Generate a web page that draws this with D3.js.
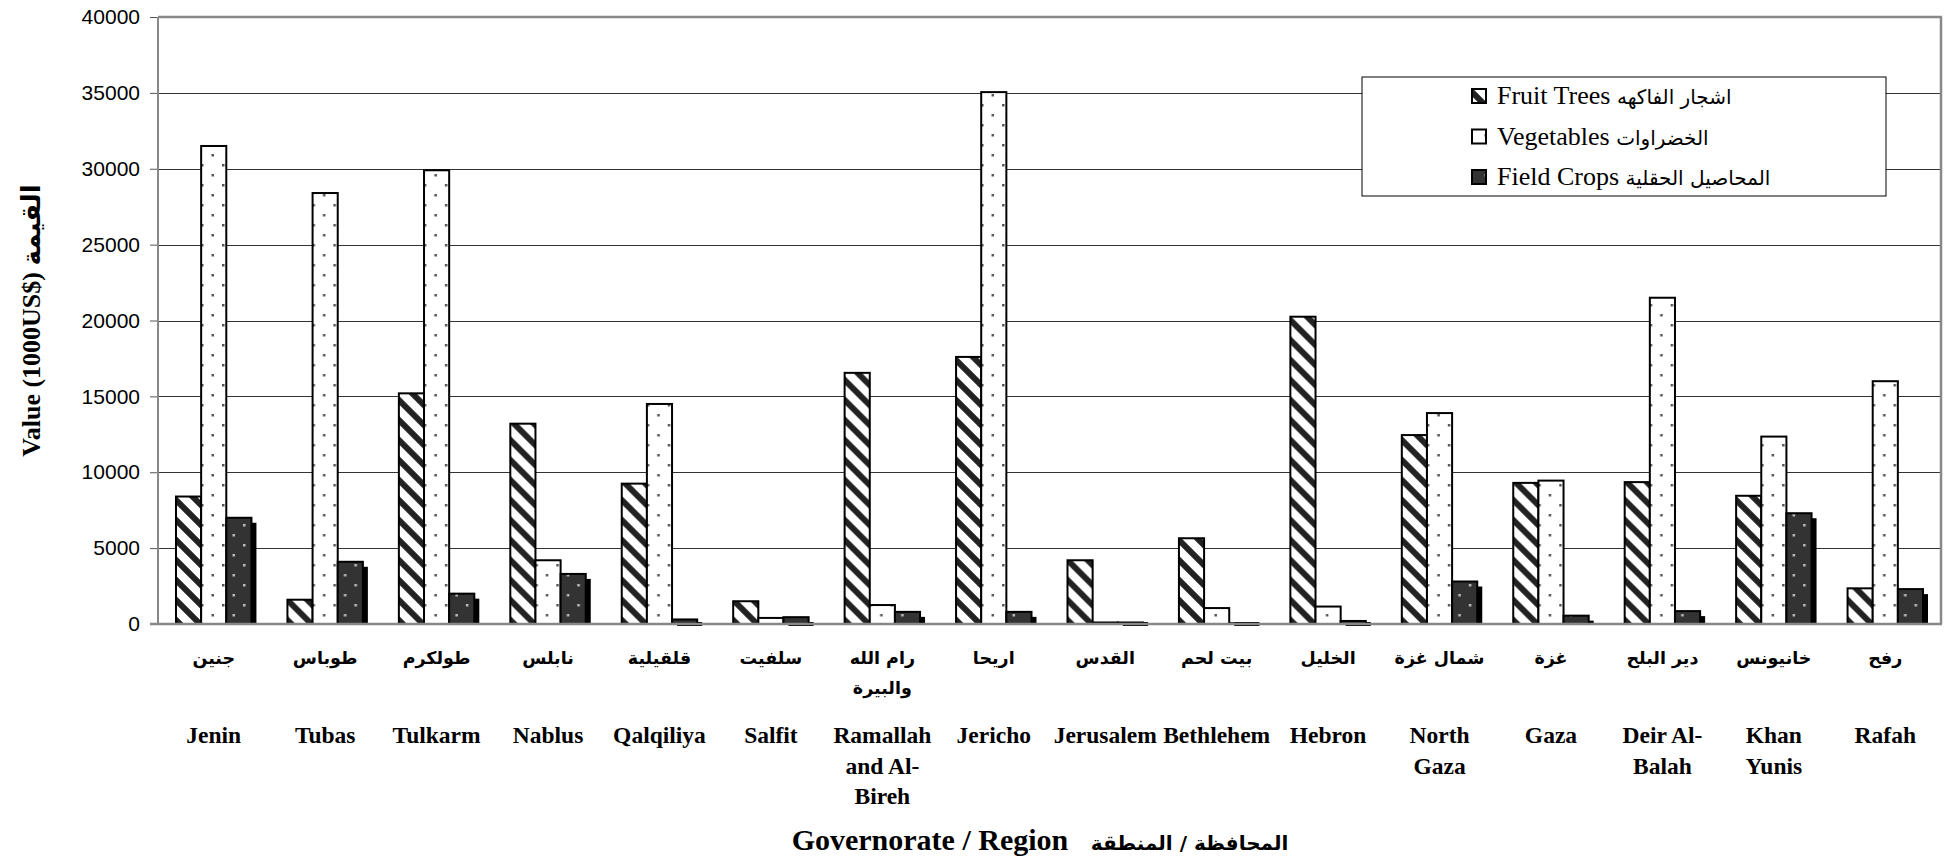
<!DOCTYPE html>
<html><head><meta charset="utf-8">
<script src="https://cdn.jsdelivr.net/npm/d3@7"></script>
<style>body{margin:0;background:#fff}svg{display:block}</style>
</head><body>
<script>
const categoriesEn = [["Jenin"],["Tubas"],["Tulkarm"],["Nablus"],["Qalqiliya"],["Salfit"],["Ramallah","and Al-","Bireh"],["Jericho"],["Jerusalem"],["Bethlehem"],["Hebron"],["North","Gaza"],["Gaza"],["Deir Al-","Balah"],["Khan","Yunis"],["Rafah"]];
const categoriesAr = [["جنين"],["طوباس"],["طولكرم"],["نابلس"],["قلقيلية"],["سلفيت"],["رام الله","والبيرة"],["اريحا"],["القدس"],["بيت لحم"],["الخليل"],["شمال غزة"],["غزة"],["دير البلح"],["خانيونس"],["رفح"]];
const fruitTrees = [8400, 1600, 15200, 13200, 9250, 1500, 16550, 17600, 4200, 5650, 20250, 12450, 9300, 9350, 8450, 2350];
const vegetables = [31500, 28400, 29900, 4200, 14500, 400, 1250, 35050, 100, 1050, 1150, 13900, 9450, 21500, 12350, 16000];
const fieldCrops = [7000, 4100, 2000, 3300, 300, 450, 800, 800, 100, 50, 200, 2800, 550, 850, 7300, 2300];
const seriesEn = ["Fruit Trees", "Vegetables", "Field Crops"];
const seriesAr = ["اشجار الفاكهه", "الخضراوات", "المحاصيل الحقلية"];
const yTicks = [0, 5000, 10000, 15000, 20000, 25000, 30000, 35000, 40000];

const W = 1948, H = 861;
const L = 158, R = 1941, T = 17, B = 624;
const svg = d3.select("body").append("svg").attr("width", W).attr("height", H);
const defs = svg.append("defs");

// patterns
const pf = defs.append("pattern").attr("id","pFruit").attr("patternUnits","userSpaceOnUse").attr("width",20).attr("height",20);
pf.append("rect").attr("width",20).attr("height",20).attr("fill","#fff");
pf.append("path").attr("d","M-5,-5L25,25M-5,15L5,25M15,-5L25,5").attr("stroke","#222").attr("stroke-width",6);
const pv = defs.append("pattern").attr("id","pVeg").attr("patternUnits","userSpaceOnUse").attr("width",21).attr("height",20);
pv.append("rect").attr("width",21).attr("height",20).attr("fill","#fff");
pv.append("rect").attr("x",4).attr("y",4).attr("width",2.5).attr("height",2.5).attr("fill","#555");
pv.append("rect").attr("x",14.5).attr("y",14).attr("width",2.5).attr("height",2.5).attr("fill","#555");
const pc = defs.append("pattern").attr("id","pField").attr("patternUnits","userSpaceOnUse").attr("width",21).attr("height",20);
pc.append("rect").attr("width",21).attr("height",20).attr("fill","#333");
pc.append("rect").attr("x",4).attr("y",4).attr("width",2.5).attr("height",2.5).attr("fill","#bbb");
pc.append("rect").attr("x",14.5).attr("y",14).attr("width",2.5).attr("height",2.5).attr("fill","#bbb");
const fills = ["url(#pFruit)","url(#pVeg)","url(#pField)"];

const idx = d3.range(categoriesEn.length);
const x0 = d3.scaleBand().domain(idx).range([L, R]).paddingInner(0.323).paddingOuter(0.1615);
const x1 = d3.scaleBand().domain([0,1,2]).range([0, x0.bandwidth()]);
const y = d3.scaleLinear().domain([0, 40000]).range([B, T]);

// gridlines
svg.append("g").selectAll("line").data(yTicks.filter(t => t > 0 && t < 40000)).join("line")
  .attr("x1", L).attr("x2", R).attr("y1", d => Math.round(y(d)) + 0.5).attr("y2", d => Math.round(y(d)) + 0.5)
  .attr("stroke", "#333").attr("stroke-width", 1);

// y axis
const yAxis = svg.append("g").attr("transform", `translate(${L},0)`)
  .call(d3.axisLeft(y).tickValues(yTicks).tickSize(8).tickPadding(10).tickFormat(d3.format("d")));
yAxis.select(".domain").remove();
yAxis.selectAll(".tick line").attr("stroke", "#555");
yAxis.selectAll(".tick text").attr("font-family", "Liberation Sans, Arial, sans-serif").attr("font-size", 21).attr("fill", "#000");

// bars
const series = [fruitTrees, vegetables, fieldCrops];
const groups = svg.append("g").selectAll("g").data(idx).join("g").attr("transform", i => `translate(${x0(i)},0)`);
// shadows for field crops
groups.append("rect")
  .attr("x", x1(2) + 5)
  .attr("y", i => Math.min(y(fieldCrops[i]) + 5, B - 2))
  .attr("width", x1.bandwidth())
  .attr("height", i => { const t = Math.min(y(fieldCrops[i]) + 5, B - 2); return Math.max(B - t, 4); })
  .attr("fill", "#000");
groups.selectAll("rect.bar").data(i => series.map((s, k) => ({k, v: s[i]}))).join("rect").attr("class","bar")
  .attr("x", d => x1(d.k)).attr("y", d => y(d.v))
  .attr("width", x1.bandwidth()).attr("height", d => Math.max(B - y(d.v), 0.5))
  .attr("fill", d => fills[d.k]).attr("stroke", "#000").attr("stroke-width", 2);

// frame
svg.append("line").attr("x1", L).attr("x2", R + 1).attr("y1", T).attr("y2", T).attr("stroke", "#888").attr("stroke-width", 2.5);
svg.append("line").attr("x1", R).attr("x2", R).attr("y1", T).attr("y2", B).attr("stroke", "#888").attr("stroke-width", 2.5);
svg.append("line").attr("x1", L).attr("x2", L).attr("y1", T).attr("y2", B).attr("stroke", "#888").attr("stroke-width", 2);
svg.append("line").attr("x1", L - 8).attr("x2", R + 1).attr("y1", B).attr("y2", B).attr("stroke", "#888").attr("stroke-width", 2.5);

// x labels
const serif = "Liberation Serif, Times New Roman, DejaVu Sans, serif";
const arFont = "DejaVu Sans, sans-serif";
const xl = svg.append("g");
idx.forEach(i => {
  const cx = x0(i) + x0.bandwidth() / 2;
  categoriesAr[i].forEach((t, j) => {
    xl.append("text").attr("x", cx).attr("y", 664 + j * 30).attr("text-anchor", "middle")
      .attr("font-family", arFont).attr("font-weight", "bold").attr("font-size", 17.5).attr("direction","rtl").text(t);
  });
  categoriesEn[i].forEach((t, j) => {
    xl.append("text").attr("x", cx).attr("y", 743 + j * 30.5).attr("text-anchor", "middle")
      .attr("font-family", serif).attr("font-weight", "bold").attr("font-size", 23.5).text(t);
  });
});

// axis titles
const xt = svg.append("text").attr("x", 1040).attr("y", 850).attr("text-anchor", "middle")
  .attr("font-weight", "bold");
xt.append("tspan").attr("font-family", serif).attr("font-size", 30).text("Governorate / Region\u00A0\u00A0\u00A0");
xt.append("tspan").attr("font-family", arFont).attr("font-size", 20).text("المحافظة / المنطقة");

svg.append("text").attr("transform", `translate(40,${(T + B) / 2}) rotate(-90)`).attr("text-anchor", "middle")
  .attr("font-family", serif).attr("font-weight", "bold").attr("font-size", 26)
  .text("Value (1000US$) القيمة");

// legend
const lg = svg.append("g");
lg.append("rect").attr("x", 1362).attr("y", 77).attr("width", 524).attr("height", 119).attr("fill", "#fff").attr("stroke", "#000").attr("stroke-width", 1);
seriesEn.forEach((n, k) => {
  const cy = 96 + k * 40.5;
  lg.append("rect").attr("x", 1472).attr("y", cy - 7).attr("width", 14).attr("height", 14).attr("fill", fills[k]).attr("stroke", "#000").attr("stroke-width", 2);
  const t = lg.append("text").attr("x", 1497).attr("y", cy + 8);
  t.append("tspan").attr("font-family", serif).attr("font-size", 26).text(n + " ");
  t.append("tspan").attr("font-family", arFont).attr("font-size", 20).text(seriesAr[k]);
});
</script>
</body></html>
